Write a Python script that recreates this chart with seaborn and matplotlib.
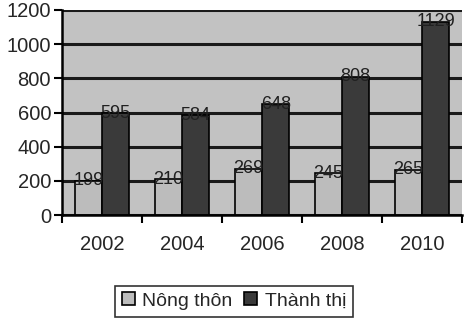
import matplotlib
matplotlib.use("Agg")
import matplotlib.pyplot as plt
import seaborn as sns
import pandas as pd
import numpy as np
from matplotlib.ticker import FixedLocator

years = ["2002", "2004", "2006", "2008", "2010"]
nong_thon = [199, 210, 269, 245, 265]
thanh_thi = [595, 584, 648, 808, 1129]
series_names = ["Nông thôn", "Thành thị"]
y_ticks = [0, 200, 400, 600, 800, 1000, 1200]

df = pd.DataFrame({
    "year": years * 2,
    "value": nong_thon + thanh_thi,
    "series": [series_names[0]] * len(years) + [series_names[1]] * len(years),
})

sns.set_theme(style="white")
plt.rcParams['font.family'] = ['Liberation Sans', 'DejaVu Sans']

fig = plt.figure(figsize=(4.71, 3.32), dpi=100)
ax = fig.add_axes([0.132, 0.352, 0.849, 0.618])
ax.set_facecolor("#c2c2c2")

sns.barplot(data=df, x="year", y="value", hue="series", ax=ax,
            palette=["#bcbcbc", "#3a3a3a"], edgecolor="black", linewidth=1.2,
            width=0.68, saturation=1, legend=True)

ax.set_ylim(0, 1200)
ax.set_xlim(-0.5, len(years) - 0.5)
ax.set_yticks(y_ticks)
ax.set_yticklabels([str(t) for t in y_ticks], fontsize=14.5)
ax.yaxis.grid(True, color="#1a1a1a", linewidth=2.2)
ax.set_axisbelow(True)
ax.set_xlabel("")
ax.set_ylabel("")

ax.tick_params(axis="x", which="major", length=0, labelsize=14.5, pad=14)
ax.xaxis.set_minor_locator(FixedLocator(np.arange(-0.5, len(years), 1.0)))
ax.tick_params(axis="x", which="minor", length=6, width=1.5, color="black", direction="out", bottom=True)
ax.tick_params(axis="y", length=6, width=1.5, color="black", direction="out", left=True, pad=2)

for side in ["top", "right"]:
    ax.spines[side].set_visible(False)
for side in ["left", "bottom"]:
    ax.spines[side].set_color("black")
    ax.spines[side].set_linewidth(1.8)

for cont in ax.containers:
    ax.bar_label(cont, fmt="%d", fontsize=13, color="#202020", padding=-6)

handles, labels = ax.get_legend_handles_labels()
ax.legend_.remove()
leg = fig.legend(handles, labels, loc="center", bbox_to_anchor=(0.497, 0.093), ncol=2,
                 fontsize=14, frameon=True, fancybox=False, edgecolor="black",
                 handlelength=0.65, handleheight=0.65, handletextpad=0.4, columnspacing=0.6,
                 borderpad=0.35)
leg.get_frame().set_linewidth(1.2)

fig.savefig("out.png", dpi=100, facecolor="white")
